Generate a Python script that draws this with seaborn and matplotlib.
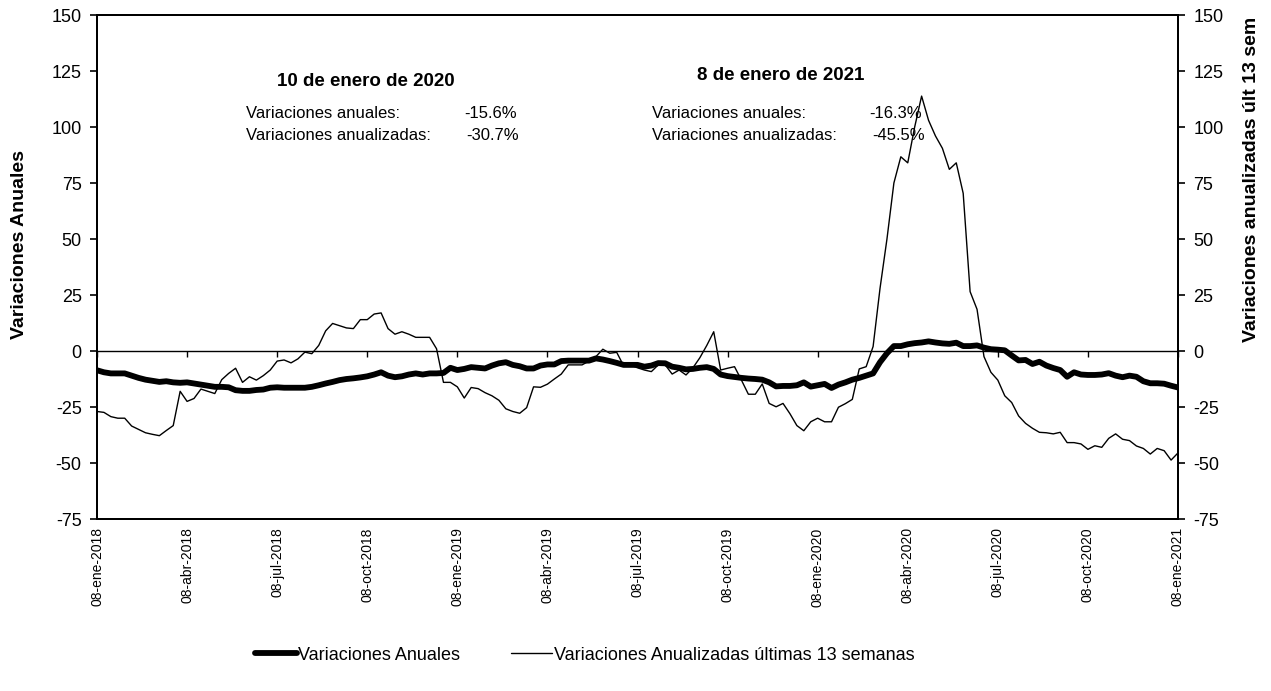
import matplotlib
matplotlib.use("Agg")
import matplotlib.pyplot as plt
import seaborn as sns
import numpy as np
import pandas as pd

# ---------------- data ----------------
tick_labels = ["08-ene-2018", "08-abr-2018", "08-jul-2018", "08-oct-2018",
               "08-ene-2019", "08-abr-2019", "08-jul-2019", "08-oct-2019",
               "08-ene-2020", "08-abr-2020", "08-jul-2020", "08-oct-2020",
               "08-ene-2021"]
weeks_per_tick = 13

anuales = [
    -8.6, -9.5, -10, -10, -10, -11, -12, -12.8, -13.3, -13.8,
    -13.5, -14, -14.2, -14, -14.5, -15, -15.5, -16, -16, -16.2,
    -17.5, -17.8, -17.8, -17.4, -17.2, -16.4, -16.2, -16.4, -16.4, -16.4,
    -16.4, -16, -15.3, -14.5, -13.8, -13, -12.5, -12.2, -11.8, -11.3,
    -10.5, -9.5, -11, -11.7, -11.3, -10.5, -10, -10.5, -10, -10,
    -9.8, -7.5, -8.5, -8, -7.2, -7.5, -7.8, -6.5, -5.5, -5,
    -6.2, -6.8, -7.8, -7.8, -6.5, -6, -6, -4.5, -4.3, -4.3,
    -4.3, -4.3, -3.3, -3.8, -4.5, -5.3, -6.2, -6.2, -6.2, -7,
    -6.5, -5.4, -5.5, -7, -7.5, -8.2, -8, -7.5, -7.2, -8,
    -10.5, -11.2, -11.6, -12, -12.3, -12.5, -12.8, -14, -15.8, -15.6,
    -15.6, -15.3, -14, -15.9, -15.3, -14.7, -16.5, -15, -14, -12.8,
    -12, -11, -10, -5, -1, 2.2, 2.2, 3, 3.5, 3.8,
    4.3, 3.8, 3.4, 3.2, 3.7, 2.2, 2.2, 2.5, 1.5, 0.8,
    0.6, 0.3, -2, -4.2, -4, -5.8, -4.8, -6.5, -7.6, -8.5,
    -11.5, -9.5, -10.5, -10.7, -10.7, -10.5, -9.9, -11, -11.7, -11,
    -11.5, -13.5, -14.4, -14.4, -14.6, -15.5, -16.3]

anualizadas = [
    -27, -27.4, -29.3, -30, -30, -33.5, -35, -36.5, -37.2, -37.8,
    -35.5, -33.3, -18, -22.5, -21.2, -17, -18, -19, -12.8, -10,
    -7.7, -14, -11.5, -13, -11, -8.5, -4.5, -4, -5.3, -3.5,
    -0.5, -1.2, 2.5, 9, 12.3, 11.3, 10.3, 10, 14, 14,
    16.5, 17, 10, 7.5, 8.6, 7.5, 6.1, 6.1, 6.1, 1,
    -14, -14, -16, -21, -16.3, -16.8, -18.6, -20, -22, -25.8,
    -27, -27.8, -25.3, -16, -16.2, -14.8, -12.5, -10.3, -6.2, -6.2,
    -6.2, -4.5, -2.5, 0.8, -1, -0.6, -6.6, -6.3, -7.5, -8.5,
    -9.2, -6.2, -6.2, -10.3, -8.5, -10.7, -7.5, -3, 2.5, 8.6,
    -8.5, -7.7, -7, -13, -19.3, -19.3, -14.7, -23.4, -24.9, -23.4,
    -28, -33.3, -35.6, -31.6, -30, -31.6, -31.6, -25.1, -23.5, -21.6,
    -8, -7, 2, 28, 50, 75, 86.7, 84, 100, 113.8,
    103, 96, 90.5, 81.1, 84, 70.4, 26.5, 18.6, -2.5, -9.5,
    -13, -20, -23, -29, -32.3, -34.5, -36.3, -36.5, -37, -36.3,
    -40.9, -40.9, -41.5, -43.9, -42.3, -43, -39, -37, -39.4, -40,
    -42.4, -43.5, -46, -43.5, -44.5, -48.7, -45.5]

yticks = [-75, -50, -25, 0, 25, 50, 75, 100, 125, 150]

name_a = "Variaciones Anuales"
name_b = "Variaciones Anualizadas últimas 13 semanas"

df = pd.DataFrame({"semana": np.arange(len(anuales)),
                   name_a: anuales, name_b: anualizadas})

# ---------------- style ----------------
sns.set_theme(style="white")
plt.rcParams["font.family"] = ["Liberation Sans", "DejaVu Sans"]
for k in ("text.color", "axes.labelcolor", "xtick.color", "ytick.color",
          "axes.edgecolor"):
    plt.rcParams[k] = "black"

W, H = 1271, 691
fig = plt.figure(figsize=(W / 100, H / 100), dpi=100)
ax = fig.add_axes([97 / W, 1 - 519 / H, (1178 - 97) / W, (519 - 15) / H])
ax2 = ax.twinx()

sns.lineplot(data=df, x="semana", y=name_a, ax=ax, color="black",
             linewidth=4.2, legend=False, label=name_a)
sns.lineplot(data=df, x="semana", y=name_b, ax=ax2, color="black",
             linewidth=1.0, legend=False, label=name_b)

n = len(anuales) - 1
for a in (ax, ax2):
    a.set_xlim(0, n)
    a.set_ylim(-75, 150)
    a.set_yticks(yticks)
    a.set_yticklabels([str(t) for t in yticks], fontsize=13)
    for s in a.spines.values():
        s.set_color("black")
        s.set_linewidth(1.4)
    a.grid(False)

ax.axhline(0, color="black", linewidth=1.0, zorder=1)

xt = list(range(0, n + 1, weeks_per_tick))
ax.set_xticks(xt)
ax.set_xticklabels(tick_labels, rotation=90, fontsize=10)
ax.tick_params(axis="x", length=0, pad=6)
ax.tick_params(axis="y", direction="out", length=5, width=1.2, color="black",
               left=True, pad=6)
ax2.tick_params(axis="y", direction="out", length=5, width=1.2, color="black",
                right=True, pad=6)

# tick marks on the zero line (category axis crossing at 0)
sec = ax.secondary_xaxis(75 / 225)
sec.set_xticks(xt)
sec.set_xticklabels([""] * len(xt))
sec.tick_params(axis="x", direction="out", length=4, width=1.0, color="black")
sec.spines["bottom"].set_visible(False)
sec.spines["top"].set_visible(False)

ax.set_xlabel("")
ax.set_ylabel("Variaciones Anuales", fontsize=14, fontweight="bold")
ax2.set_ylabel("Variaciones anualizadas últ 13 sem", fontsize=14,
               fontweight="bold")
ax.yaxis.set_label_coords(-0.064, 0.545)
ax2.yaxis.set_label_coords(1.060, 0.673)

# ---------------- annotations ----------------
def ftxt(x, y, s, **kw):
    fig.text(x / W, 1 - y / H, s, va="center", **kw)

ftxt(366, 82, "10 de enero de 2020", ha="center", fontsize=13.5, fontweight="bold")
ftxt(246, 114, "Variaciones anuales:", ha="left", fontsize=12)
ftxt(246, 136, "Variaciones anualizadas:", ha="left", fontsize=12)
ftxt(517, 114, "-15.6%", ha="right", fontsize=12)
ftxt(519, 136, "-30.7%", ha="right", fontsize=12)

ftxt(781, 76, "8 de enero de 2021", ha="center", fontsize=13.5, fontweight="bold")
ftxt(652, 114, "Variaciones anuales:", ha="left", fontsize=12)
ftxt(652, 136, "Variaciones anualizadas:", ha="left", fontsize=12)
ftxt(922, 114, "-16.3%", ha="right", fontsize=12)
ftxt(925, 136, "-45.5%", ha="right", fontsize=12)

# ---------------- legend ----------------
h1 = ax.get_lines()[0]
h2 = ax2.get_lines()[0]
fig.legend([h1, h2], [name_a, name_b], loc="center",
           bbox_to_anchor=(585 / W, 1 - 655 / H), ncol=2, frameon=False,
           fontsize=13, handlelength=2.3, handletextpad=0.1, columnspacing=2.8)

fig.savefig("out.png", dpi=100)
